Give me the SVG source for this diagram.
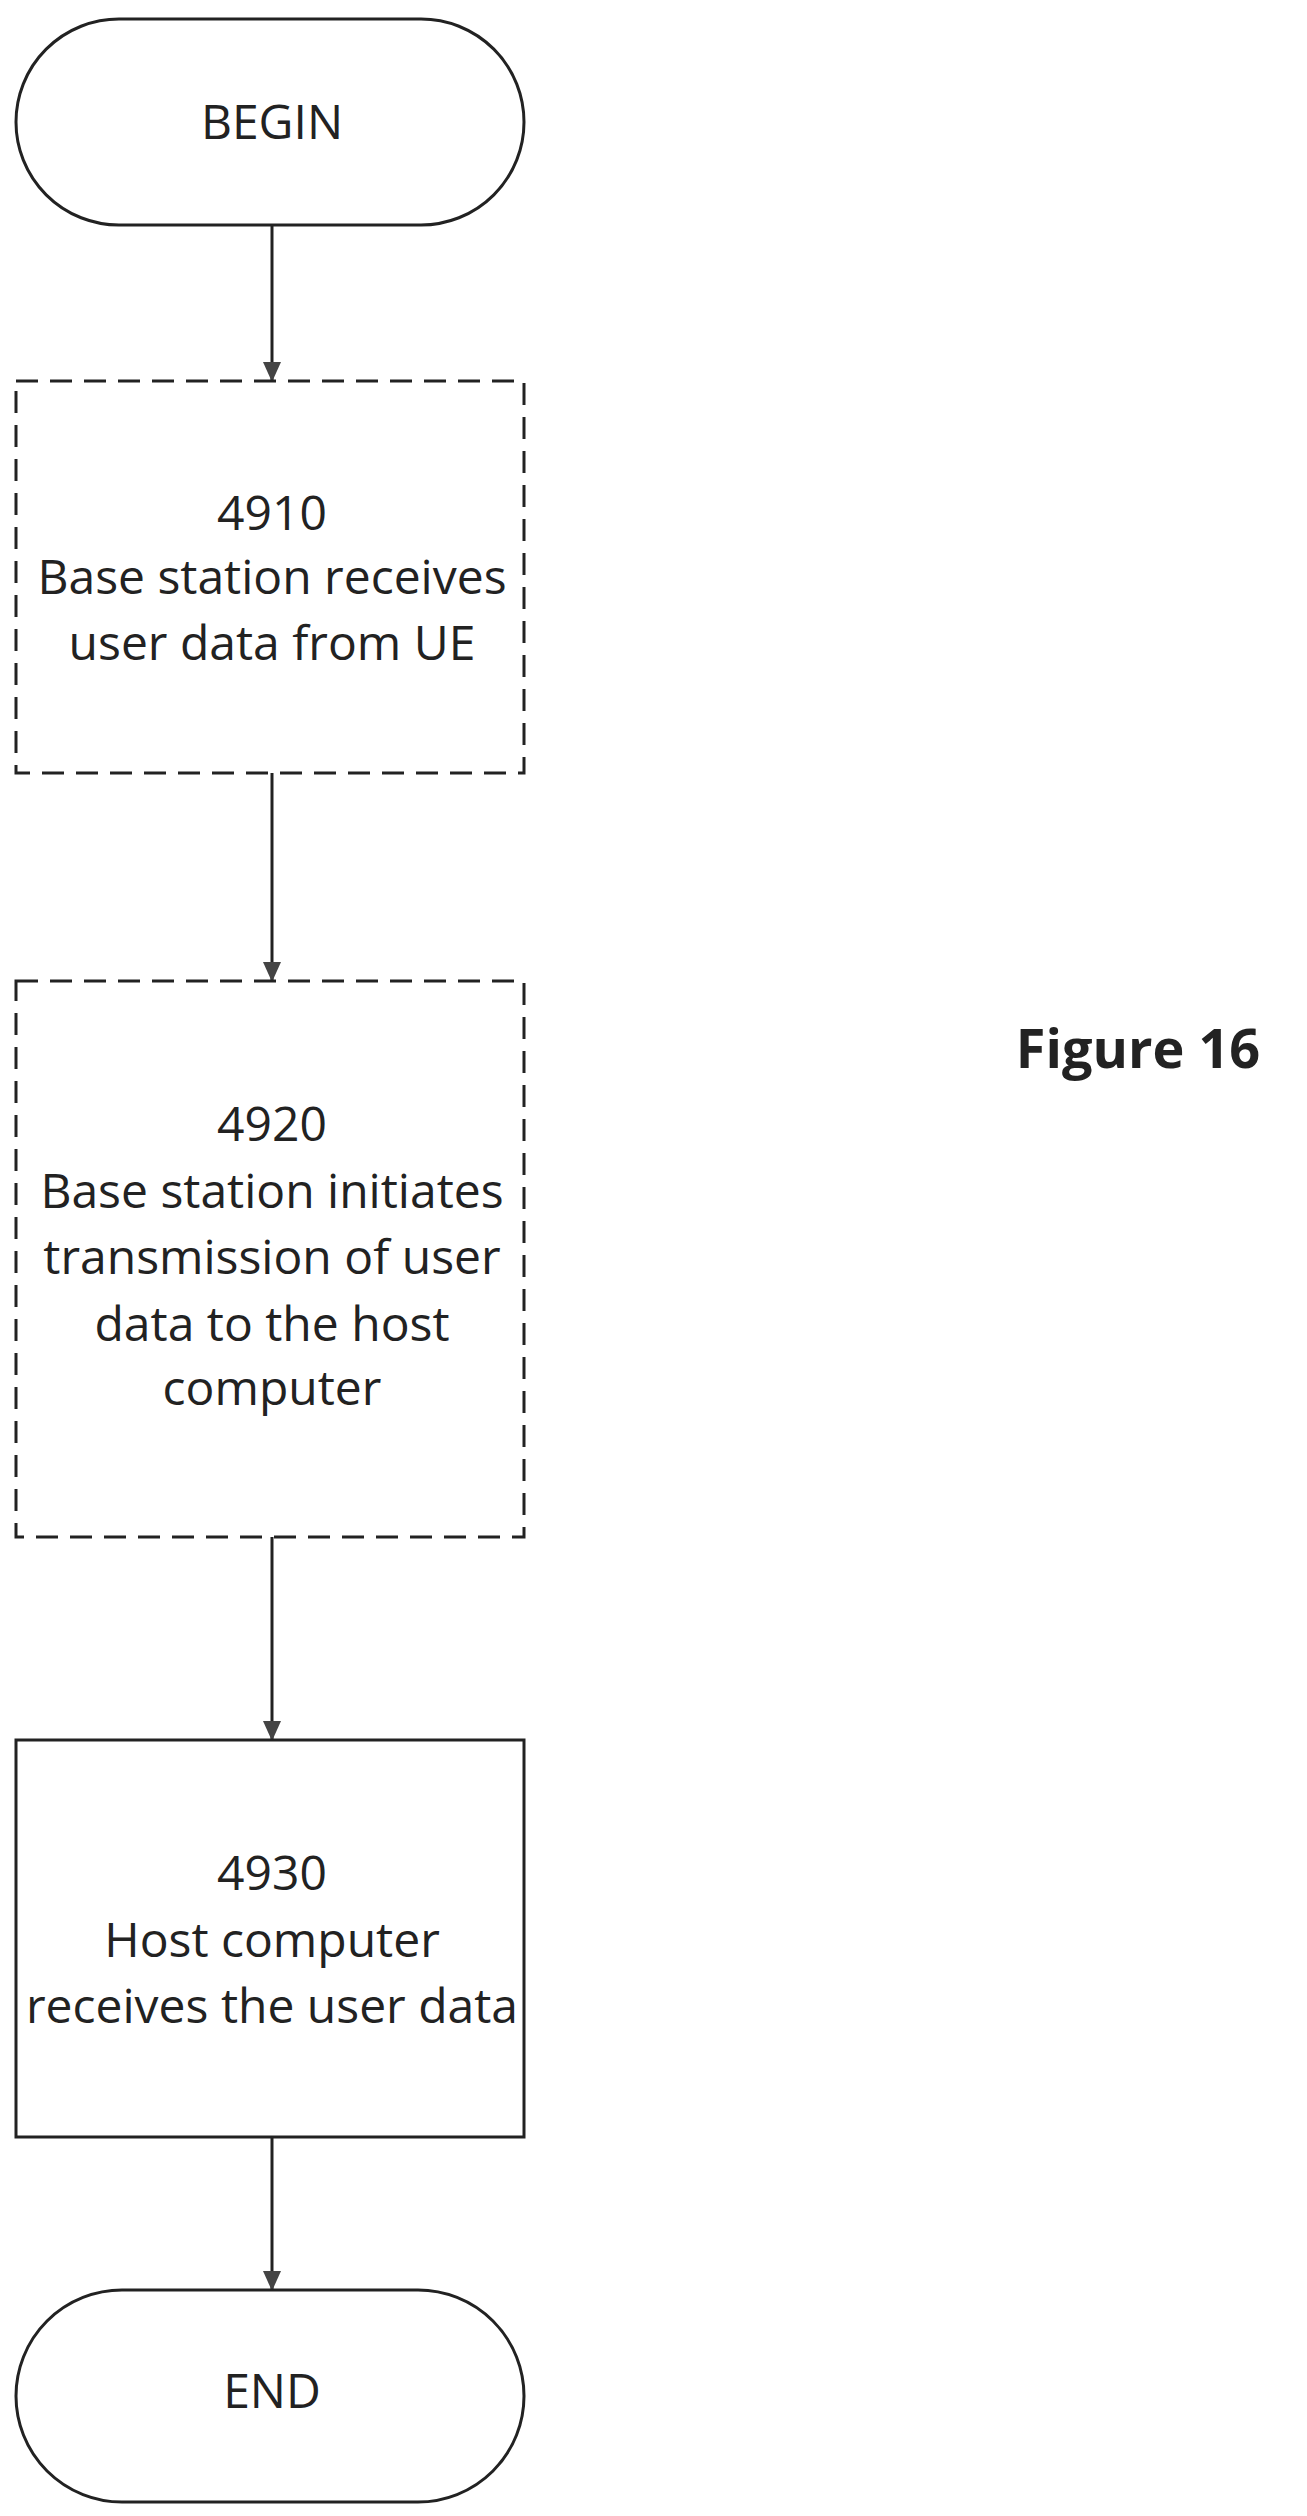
<svg xmlns="http://www.w3.org/2000/svg" width="1307" height="2516" viewBox="0 0 1307 2516">
<style>
.s{fill:#fff;stroke:#222;stroke-width:3}
.d{stroke-dasharray:22 12}
.t{font-family:"Open Sans","Liberation Sans",sans-serif;font-size:48px;fill:#222;text-anchor:middle}
.c{stroke:#222;stroke-width:3;fill:none;marker-end:url(#a)}
</style>
<defs><marker id="a" markerWidth="20" markerHeight="20" refX="18" refY="9" orient="auto" markerUnits="userSpaceOnUse"><path d="M0,0 L20,9 L0,18 Z" fill="#444"/></marker></defs>
<rect width="1307" height="2516" fill="#fff"/>
<g id="connectors">
<line class="c" x1="272" y1="225" x2="272" y2="380"/>
<line class="c" x1="272" y1="773" x2="272" y2="980"/>
<line class="c" x1="272" y1="1537" x2="272" y2="1739"/>
<line class="c" x1="272" y1="2137" x2="272" y2="2289"/>
</g>
<g id="begin"><rect class="s" x="16" y="19" width="508" height="206" rx="103"/><text class="t" x="272" y="139">BEGIN</text></g>
<g id="n4910"><rect class="s d" x="16" y="381" width="508" height="392"/>
<text class="t" x="272" y="530">4910</text><text class="t" x="272" y="594">Base station receives</text><text class="t" x="272" y="660">user data from UE</text></g>
<g id="n4920"><rect class="s d" x="16" y="981" width="508" height="556"/>
<text class="t" x="272" y="1141">4920</text><text class="t" x="272" y="1208">Base station initiates</text><text class="t" x="272" y="1274">transmission of user</text><text class="t" x="272" y="1341">data to the host</text><text class="t" x="272" y="1405">computer</text></g>
<g id="n4930"><rect class="s" x="16" y="1740" width="508" height="397"/>
<text class="t" x="272" y="1890">4930</text><text class="t" x="272" y="1957">Host computer</text><text class="t" x="272" y="2023">receives the user data</text></g>
<g id="end"><rect class="s" x="16" y="2290" width="508" height="212" rx="106"/><text class="t" x="272" y="2408">END</text></g>
<text x="1138" y="1068" style="font-family:'Open Sans','Liberation Sans',sans-serif;font-size:54px;font-weight:bold;fill:#222;text-anchor:middle">Figure 16</text>
</svg>
